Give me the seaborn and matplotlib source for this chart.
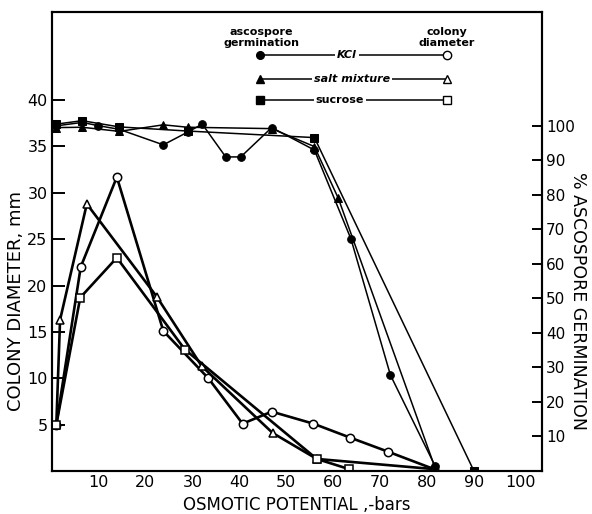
import matplotlib.pyplot as plt
import seaborn as sns

# ascospore germination (%), right axis
kcl_germ_x = [1, 6.5, 9.8, 14.4, 23.8, 29, 32.1, 37.1, 40.3, 46.9, 56, 63.8, 72.2, 81.7]
kcl_germ_y = [100, 101, 100.1, 99, 94.5, 98.2, 100.5, 91, 91, 99.5, 93, 67.2, 27.8, 1.5]
salt_germ_x = [1, 6.5, 14.4, 23.8, 29, 46.9, 56, 61.1, 81.7]
salt_germ_y = [99.5, 99.6, 98.4, 100.3, 99.6, 99.2, 94, 79, 1]
sucrose_germ_x = [1, 6.5, 14.4, 29, 56, 90]
sucrose_germ_y = [100.5, 101.5, 99.7, 98.5, 96.6, 0]

# colony diameter (mm), left axis
kcl_col_x = [1, 6.2, 13.9, 23.8, 33.4, 40.7, 46.9, 55.8, 63.6, 71.6, 81.5]
kcl_col_y = [5, 22, 31.7, 15.1, 10.0, 5.1, 6.4, 5.1, 3.6, 2.1, 0.2]
salt_col_x = [1, 1.8, 7.5, 22.4, 32.0, 47.1, 56.5, 81.5]
salt_col_y = [5, 16.3, 28.8, 18.8, 11.3, 4.1, 1.3, 0.2]
sucrose_col_x = [1, 6.1, 13.9, 28.4, 56.5, 63.4]
sucrose_col_y = [5, 18.7, 23, 13.1, 1.3, 0.2]

x_ticks = list(range(10, 101, 10))
left_ticks = list(range(5, 41, 5))
right_ticks = list(range(10, 101, 10))

sns.set_style("white")
plt.rcParams['font.family'] = ['DejaVu Sans']
plt.rcParams['text.color'] = 'black'
plt.rcParams['axes.labelcolor'] = 'black'
plt.rcParams['xtick.color'] = 'black'
plt.rcParams['ytick.color'] = 'black'

fig = plt.figure(figsize=(5.92, 5.14), dpi=100)
ax = fig.add_axes([0.0872, 0.0837, 0.8283, 0.893])
ax2 = ax.twinx()

markers = {'KCl': 'o', 'salt': '^', 'sucrose': 's'}

col_series = [('KCl', kcl_col_x, kcl_col_y), ('salt', salt_col_x, salt_col_y),
              ('sucrose', sucrose_col_x, sucrose_col_y)]
germ_series = [('KCl', kcl_germ_x, kcl_germ_y), ('salt', salt_germ_x, salt_germ_y),
               ('sucrose', sucrose_germ_x, sucrose_germ_y)]

for name, xs, ys in col_series:
    sns.lineplot(x=xs, y=ys, ax=ax, color='black', lw=1.9, marker=markers[name],
                 markersize=6, markerfacecolor='white', markeredgecolor='black',
                 markeredgewidth=1.1, sort=False, zorder=3)

for name, xs, ys in germ_series:
    sns.lineplot(x=xs, y=ys, ax=ax2, color='black', lw=1.1, marker=markers[name],
                 markersize=5.5, markerfacecolor='black', markeredgecolor='black',
                 sort=False, zorder=3)

ax.set_xlim(0, 104.5)
ax.set_ylim(0, 49.5)
ax2.set_ylim(0, 133)
ax.set_xticks(x_ticks)
ax.set_yticks(left_ticks)
ax2.set_yticks(right_ticks)

for a in (ax, ax2):
    for s in a.spines.values():
        s.set_linewidth(1.5)
        s.set_color('black')
ax.tick_params(axis='both', direction='in', length=9, width=1.4, labelsize=11.5, pad=3,
               colors='black')
ax2.tick_params(axis='y', direction='in', length=7, width=1.4, labelsize=11, pad=3,
                colors='black')

ax.set_xlabel("OSMOTIC POTENTIAL ,-bars", fontsize=12, labelpad=4)
ax.set_ylabel("COLONY DIAMETER, mm", fontsize=13, va='center')
ax.yaxis.set_label_coords(-0.072, 0.37)
ax2.set_ylabel("% ASCOSPORE GERMINATION", fontsize=12.5, rotation=270, va='center')
ax2.yaxis.set_label_coords(1.074, 0.37)

# hand-drawn style legend at the top
rows = [('KCl', 0.906, 0.602, 'italic'), ('salt', 0.854, 0.612, 'italic'),
        ('sucrose', 0.808, 0.588, 'normal')]
row_text = {'KCl': 'KCl', 'salt': 'salt mixture', 'sucrose': 'sucrose'}
for name, yf, xt, style in rows:
    ax.plot([0.425, 0.806], [yf, yf], transform=ax.transAxes, color='black', lw=1.1,
            clip_on=False, zorder=4)
    ax.plot([0.425], [yf], transform=ax.transAxes, marker=markers[name], color='black',
            markersize=5.5, clip_on=False, zorder=5)
    ax.plot([0.806], [yf], transform=ax.transAxes, marker=markers[name], color='black',
            markerfacecolor='white', markersize=6, clip_on=False, zorder=5)
    ax.text(xt, yf, row_text[name], transform=ax.transAxes, ha='center', va='center',
            fontsize=8, style=style, fontweight='bold', zorder=6,
            bbox=dict(facecolor='white', edgecolor='none', pad=1.5))
ax.text(0.428, 0.944, "ascospore\ngermination", transform=ax.transAxes, ha='center',
        va='center', fontsize=8, fontweight='bold', linespacing=1.05)
ax.text(0.806, 0.944, "colony\ndiameter", transform=ax.transAxes, ha='center',
        va='center', fontsize=8, fontweight='bold', linespacing=1.05)

fig.savefig("out.png", dpi=100)
